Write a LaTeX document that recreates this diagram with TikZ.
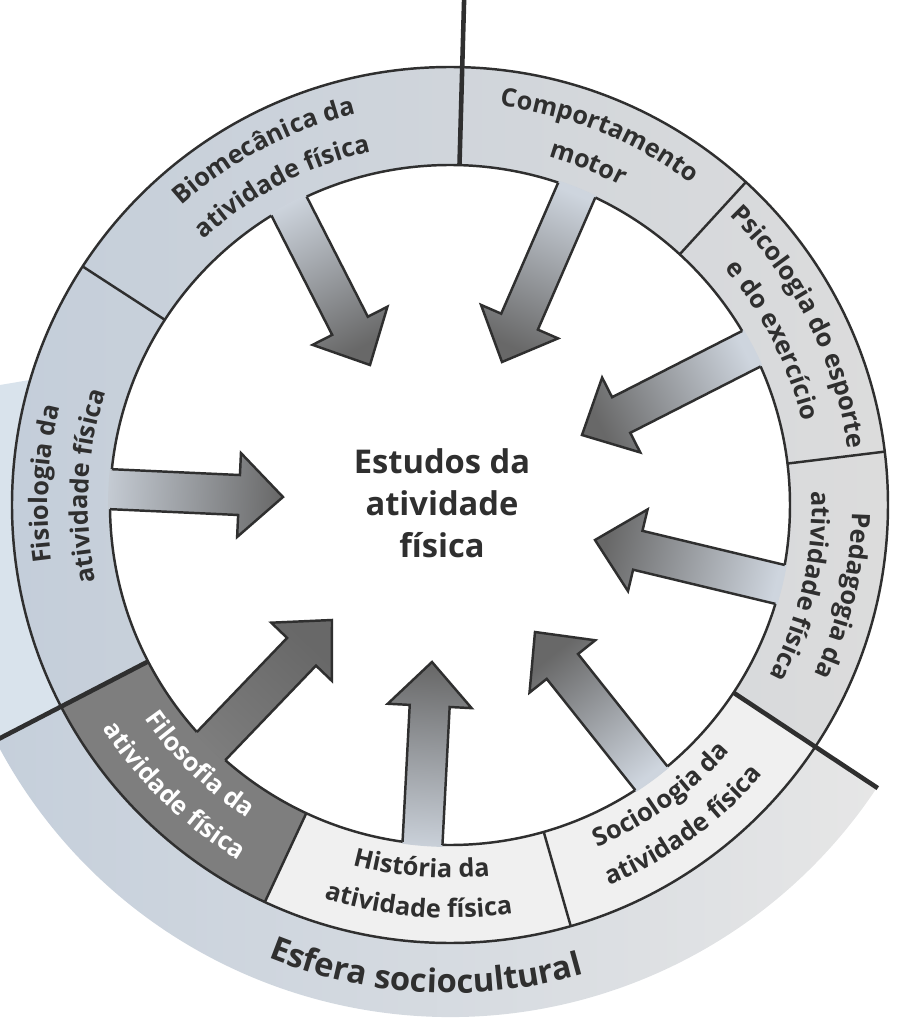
\documentclass[tikz,border=0pt]{standalone}
\usepackage{fontspec}
\setmainfont{Open Sans}
\usetikzlibrary{decorations.text}

\definecolor{inkc}{HTML}{2F2F2F}
\definecolor{ringblue}{HTML}{C4CEDA}
\definecolor{ringgray}{HTML}{DCDCDC}
\definecolor{ringwhite}{HTML}{F0F0F0}
\definecolor{filoc}{HTML}{7E7E7E}
\definecolor{sphereblue}{HTML}{C5CFDB}
\definecolor{spheregray}{HTML}{E6E6E6}
\definecolor{leftblue}{HTML}{D9E3EC}
\definecolor{arrowlight}{HTML}{CED5DE}
\definecolor{arrowdark}{HTML}{686868}

\newcommand{\lblfont}{\fontsize{7.2}{8}\selectfont\bfseries}
% ring label along an arc: [colour]{centre angle}{1 = clockwise, -1 = counter}{baseline radius}{text}
\newcommand{\ringlabel}[5][inkc]{%
  \path[decorate, decoration={text along path, text align=center, text color=#1,
      text={|\lblfont|#5}}]
    ({#2+40*#3}:#4) arc[start angle={#2+40*#3}, end angle={#2-40*#3}, radius=#4];}

\begin{document}
\begin{tikzpicture}[x=0.01cm, y=0.01cm,
    ringline/.style={draw=inkc, line width=0.7pt},
    bigline/.style={draw=inkc, line width=1.3pt},
    arrowline/.style={draw=inkc, line width=0.7pt, line join=miter}]
  \useasboundingbox (-450,-519) rectangle (448,505);
  \clip (-450,-519) rectangle (448,505);

  % spheres behind the ring
  \fill[leftblue] (-450,120) -- (-450,-233) -- (207.4:438)
    arc[start angle=207.4, end angle=163.4, radius=438] -- cycle;
  \shade[left color=sphereblue, right color=spheregray] (0,0) -- (207.4:512)
    arc[start angle=207.4, end angle=326.5, radius=512] -- cycle;

  % ring and its segments
  \shade[left color=ringblue, right color=ringgray] (0,0) circle (438);
  \fill[filoc] (207.4:340) arc[start angle=207.4, end angle=245, radius=340]
    -- (245:438) arc[start angle=245, end angle=207.4, radius=438] -- cycle;
  \fill[ringwhite] (245:340) arc[start angle=245, end angle=326.5, radius=340]
    -- (326.5:438) arc[start angle=326.5, end angle=245, radius=438] -- cycle;
  \fill[white] (0,0) circle (340);

  \draw[ringline] (0,0) circle (438);
  \draw[ringline] (0,0) circle (340);
  \foreach \a in {7,47.5,147,245,286}
    \draw[ringline] (\a:340) -- (\a:438);
  \draw[bigline] (88.4:340) -- (88.4:530);
  \draw[bigline] (207.4:340) -- (207.4:530);
  \draw[bigline] (326.5:340) -- (326.5:513);

  % block arrows pointing into the centre
  \foreach \tx/\ty/\ang/\lc in {-167/8/-2.6/arrowlight, -80/140/-63/arrowlight,
      52/143/-113.5/arrowlight, 132/70/-153/arrowlight, 145/-35/166.5/arrowlight,
      85/-127/128.5/arrowlight, -18/-157/87/arrowlight, -118/-115/46.2/filoc}{
    \pgfmathsetmacro{\sang}{\ang-90}
    \begin{scope}
      \clip (0,0) circle (342);
      \shade[shift={(\tx,\ty)}, rotate=\ang, bottom color=\lc, top color=arrowdark, shading angle=\sang]
        (0,0) -- (-44,42) -- (-44,20) -- (-195,20) -- (-195,-20) -- (-44,-20) -- (-44,-42) -- cycle;
    \end{scope}
    \begin{scope}
      \clip (0,0) circle (340);
      \draw[arrowline, shift={(\tx,\ty)}, rotate=\ang]
        (0,0) -- (-44,42) -- (-44,20) -- (-195,20) -- (-195,-20) -- (-44,-20) -- (-44,-42) -- cycle;
    \end{scope}
  }

  \node[font=\fontsize{9.3}{11.9}\selectfont\bfseries, text=inkc, align=center] (centro) at (-8,2)
    {Estudos da\\atividade\\física};

  % ring labels
  \ringlabel{68}{1}{402}{Comportamento}
  \ringlabel{68}{1}{362}{motor}
  \ringlabel{117.75}{1}{402}{Biomecânica da}
  \ringlabel{117.75}{1}{362}{atividade física}
  \ringlabel{177}{1}{402}{Fisiologia da}
  \ringlabel{177}{1}{362}{atividade física}
  \ringlabel{27}{1}{402}{Psicologia do esporte}
  \ringlabel{27}{1}{362}{e do exercício}
  \ringlabel{-13}{1}{402}{Pedagogia da}
  \ringlabel{-13}{1}{362}{atividade física}
  \ringlabel{-54}{-1}{373}{Sociologia da}
  \ringlabel{-54}{-1}{413}{atividade física}
  \ringlabel{265.5}{-1}{373}{História da}
  \ringlabel{265.5}{-1}{413}{atividade física}
  \ringlabel[white]{226}{-1}{373}{Filosofia da}
  \ringlabel[white]{226}{-1}{413}{atividade física}

  \path[decorate, decoration={text along path, text align=center, text color=inkc,
      text={|\fontsize{9.3}{10}\selectfont\bfseries|Esfera sociocultural}}]
    (-128:488) arc[start angle=-128, end angle=-58, radius=488];
\end{tikzpicture}
\end{document}
